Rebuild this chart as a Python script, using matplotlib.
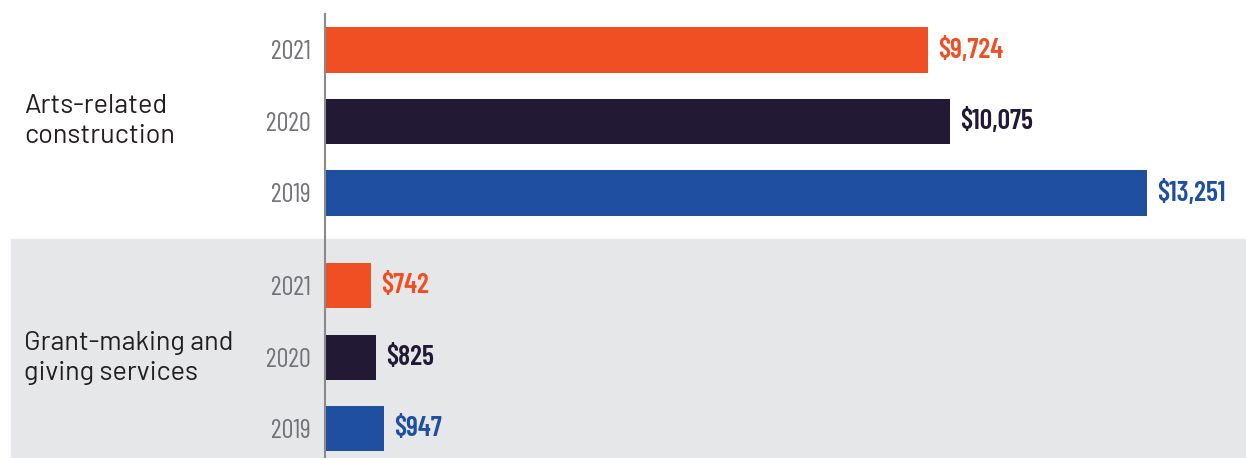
import matplotlib.pyplot as plt
from matplotlib.patches import Rectangle

# values in thousands of dollars, per category, years 2021/2020/2019
categories = ['Arts-related\nconstruction', 'Grant-making and\ngiving services']
years = ['2021', '2020', '2019']
arts_vals = [9724, 10075, 13251]
grant_vals = [742, 825, 947]
colors = ['#f04e23', '#221a35', '#1f4fa0']

cond = ['Barlow Condensed', 'Roboto Condensed', 'Sofia Sans Condensed', 'DejaVu Sans']
plain = ['Barlow', 'Lato', 'DejaVu Sans']

fig = plt.figure(figsize=(12.46, 4.58), dpi=100)
ax = fig.add_axes([325 / 1246, 0, 1 - 325 / 1246, 1])
ax.patch.set_alpha(0)

# grey band behind second group
fig.add_artist(Rectangle((11 / 1246, 0), 1, (458 - 239) / 458, transform=fig.transFigure,
                         color='#e6e7e8', zorder=-5))

gap = 1.3
pos = [0, 1, 2, 2 + gap, 3 + gap, 4 + gap]
vals = arts_vals + grant_vals
cols = colors * 2
ax.barh(pos, vals, height=0.63, color=cols, zorder=2)

for p, v, c in zip(pos, vals, cols):
    ax.annotate('${:,}'.format(v), (v, p), xytext=(7.5, 0), textcoords='offset points',
                va='center', ha='left', fontsize=20, fontweight='semibold', color=c, family=cond)

ax.set_yticks(pos)
ax.set_yticklabels(years * 2, fontsize=19, color='#737477', family=cond)
ax.tick_params(axis='y', length=0, pad=10)
ax.set_xticks([])

top = -50 / 71.5
ax.set_ylim(top + 458 / 71.5, top)
ax.set_xlim(0, 921 / 0.06203)

for s in ['top', 'right', 'bottom']:
    ax.spines[s].set_visible(False)
ax.spines['left'].set_color('#8a8a8a')
ax.spines['left'].set_linewidth(1.5)
ax.spines['left'].set_bounds(top + 14 / 71.5, top + 458 / 71.5)

fig.text(24 / 1246, 1 - 121 / 458, categories[0], fontsize=19.5, color='#231f20',
         va='center', ha='left', linespacing=1.32, family=plain)
fig.text(24 / 1246, 1 - 358 / 458, categories[1], fontsize=19.5, color='#231f20',
         va='center', ha='left', linespacing=1.32, family=plain)

fig.savefig('out.png', dpi=100)
